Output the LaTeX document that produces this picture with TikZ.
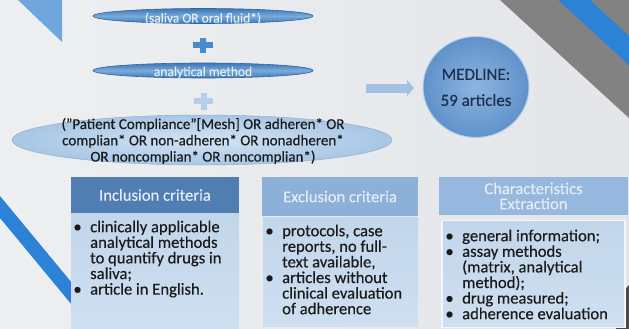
\documentclass[tikz,border=0pt]{standalone}
\usepackage{fontspec}
\setmainfont{Carlito}[UprightFeatures={FakeBold=0.35}]
\usetikzlibrary{shapes.geometric,arrows.meta}
\definecolor{bgA}{HTML}{EEEFF1}
\definecolor{bgB}{HTML}{E3E5E8}
\definecolor{decoLight}{HTML}{6EA6DD}
\definecolor{decoBlue}{HTML}{2B82D6}
\definecolor{decoGray}{HTML}{828282}
\definecolor{decoDark}{HTML}{4A4A4A}
\definecolor{ellDark}{HTML}{3C77B7}
\definecolor{ellMid}{HTML}{7AAADB}
\definecolor{ellEdge}{HTML}{2E66A3}
\definecolor{qIn}{HTML}{D3E4F4}
\definecolor{qOut}{HTML}{A7C6E5}
\definecolor{plusA}{HTML}{4A8BCD}
\definecolor{plusB}{HTML}{B3CFEA}
\definecolor{arrowc}{HTML}{A3C1E2}
\definecolor{circIn}{HTML}{8DB5E0}
\definecolor{circOut}{HTML}{5F92CA}
\definecolor{circEdge}{HTML}{B5D0EC}
\definecolor{navy}{HTML}{1E2F4F}
\definecolor{hdrA}{HTML}{507DB2}
\definecolor{hdrB}{HTML}{8CB0D8}
\definecolor{hdrC}{HTML}{96B8DE}
\definecolor{bodyc}{HTML}{C2D6EB}
\definecolor{bodyl}{HTML}{CEDFF0}
\definecolor{hdrtext}{HTML}{E4ECF6}
\definecolor{ink}{HTML}{1A1A1A}
\tikzset{
  ellq/.style={ellipse, minimum width=220pt, minimum height=15pt, inner sep=0pt,
    draw=ellEdge, line width=0.6pt, top color=ellDark, bottom color=ellDark, middle color=ellMid},
  elltext/.style={inner sep=0pt, text=hdrtext, font=\fontsize{13.5}{14}\selectfont},
  hdr/.style={rectangle, inner sep=0pt, text=hdrtext, align=center, font=\fontsize{16.6}{15.2}\selectfont},
  bodybox/.style={rectangle, inner sep=0pt, top color=bodyc, bottom color=bodyl},
  listtext/.style={anchor=north west, inner sep=0pt, align=left, text=ink, font=\fontsize{16.6}{15.6}\selectfont},
  blockarrow/.style={arrowc, line width=9pt, -{Triangle[length=7pt,width=16pt]}},
}
\newcommand{\bul}{\llap{•\hspace{8.5pt}}}
\newcommand{\tp}{\rule{0pt}{13pt}}
\begin{document}
\begin{tikzpicture}[x=1pt,y=-1pt]
\useasboundingbox (0,0) rectangle (629,329);
\shade[left color=bgA, right color=bgB] (0,0) rectangle (629,329);
% decorations
\fill[decoLight] (18,0) -- (62,0) -- (62,42) -- cycle;
\fill[decoGray] (500,0) -- (629,0) -- (629,118) -- cycle;
\fill[decoBlue] (558,0) -- (590,0) -- (629,36) -- (629,65) -- cycle;
\fill[decoBlue] (0,196) -- (72,283) -- (72,305) -- (0,218) -- cycle;
\fill[decoDark] (629,285) -- (629,329) -- (616,329) -- (616,300) -- cycle;
% query ellipses
\node[ellq] (q1) at (203,16) {};
\node[elltext, anchor=base] (q1t) at (203,22.5) {(saliva OR oral fluid*)};
\fill[plusA] (193,42.5) rectangle (213,48.5);
\fill[plusA] (200,38) rectangle (206,53);
\node[ellq] (q2) at (203,70.5) {};
\node[elltext, anchor=base] (q2t) at (203,76) {analytical method};
\fill[plusB] (194,98) rectangle (213,104);
\fill[plusB] (200.5,93) rectangle (206.5,110);
\node[ellipse, minimum width=380pt, minimum height=50pt, inner sep=0pt,
  inner color=qIn, outer color=qOut, draw=qOut!85!black, line width=0.4pt] (q3) at (202,140) {};
\node[align=center, inner sep=0pt, text=ink, font=\fontsize{15}{16.3}\selectfont] (q3t) at (203,141)
  {("Patient Compliance"[Mesh] OR adheren* OR\\complian* OR non-adheren* OR nonadheren*\\OR noncomplian* OR noncomplian*)};
% arrow and result
\coordinate (aS) at (366,88);
\coordinate (aE) at (414,88);
\draw[blockarrow] (aS) -- (aE);
\node[ellipse, minimum width=106pt, minimum height=101pt, inner sep=0pt,
  inner color=circIn, outer color=circOut, draw=circEdge, line width=1pt] (med) at (476,87) {};
\node[align=center, inner sep=0pt, text=navy, font=\fontsize{17}{26}\selectfont] (medt) at (476,87.5) {MEDLINE:\\59 articles};
% criteria boxes
\node[hdr, fill=hdrA, minimum width=168pt, minimum height=36pt] (inH) at (155,195) {Inclusion criteria};
\node[bodybox, minimum width=168pt, minimum height=117pt, anchor=north] (inB) at (155,213) {};
\node[hdr, fill=hdrB, minimum width=156pt, minimum height=39pt] (exH) at (340,196.5) {Exclusion criteria};
\node[bodybox, minimum width=155pt, minimum height=109pt, anchor=north] (exB) at (340.5,217) {};
\node[hdr, fill=hdrC, minimum width=189pt, minimum height=38pt] (chH) at (533.5,196) {Characteristics\\Extraction};
\node[bodybox, draw=white!80!bodyc, line width=1.2pt, minimum width=183pt, minimum height=107pt, anchor=north] (chB) at (533.5,220) {};
\node[listtext] (inL) at (90,219) {\tp\bul clinically applicable\\analytical methods\\to quantify drugs in\\saliva;\\\bul article in English.};
\node[listtext] (exL) at (282,223) {\tp\bul protocols, case\\reports, no full-\\text available,\\\bul articles without\\clinical evaluation\\of adherence};
\node[listtext] (chL) at (462,228) {\tp\bul general information;\\\bul assay methods\\(matrix, analytical\\method);\\\bul drug measured;\\\bul adherence evaluation};
\end{tikzpicture}
\end{document}
